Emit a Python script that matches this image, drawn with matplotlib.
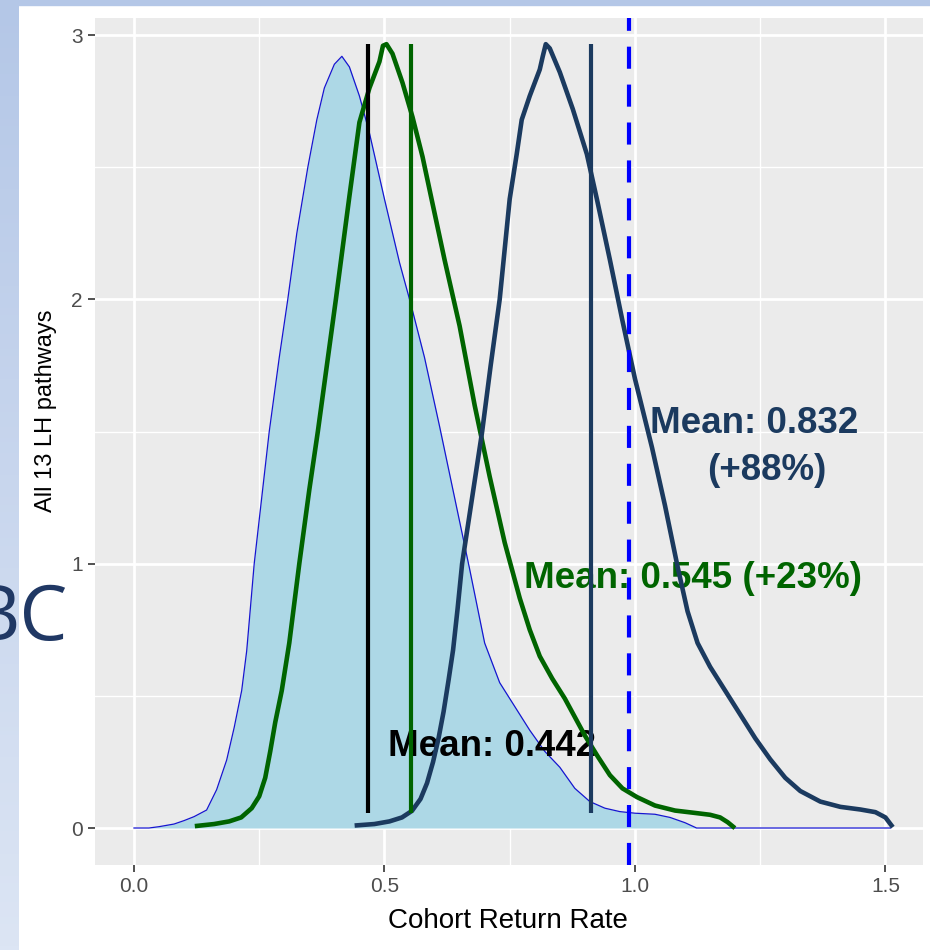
import numpy as np
import matplotlib.pyplot as plt
from matplotlib.patches import Rectangle
from matplotlib.colors import LinearSegmentedColormap
from matplotlib.ticker import MultipleLocator

# observed return-rate density (filled)
fill_x = [0.00, 0.03, 0.05, 0.08, 0.10, 0.12, 0.145, 0.165, 0.185, 0.20, 0.215, 0.225,
          0.24, 0.255, 0.27, 0.29, 0.307, 0.325, 0.347, 0.365, 0.38, 0.40, 0.415, 0.43,
          0.45, 0.47, 0.50, 0.53, 0.553, 0.58, 0.61, 0.64, 0.67, 0.70, 0.73, 0.76, 0.79,
          0.82, 0.85, 0.88, 0.91, 0.94, 0.97, 1.00, 1.04, 1.07, 1.10, 1.123, 1.51]
fill_y = [0.000, 0.000, 0.005, 0.015, 0.028, 0.043, 0.068, 0.145, 0.257, 0.38, 0.52, 0.67,
          1.00, 1.25, 1.50, 1.78, 2.00, 2.25, 2.50, 2.68, 2.80, 2.89, 2.92, 2.88,
          2.77, 2.63, 2.38, 2.14, 1.98, 1.78, 1.52, 1.25, 0.98, 0.70, 0.55, 0.46, 0.37,
          0.29, 0.23, 0.15, 0.10, 0.075, 0.062, 0.056, 0.052, 0.04, 0.02, 0.0, 0.0]

# scenario 1 (green)
green_x = [0.126, 0.16, 0.19, 0.214, 0.235, 0.25, 0.262, 0.272, 0.282, 0.295, 0.31, 0.33,
           0.35, 0.367, 0.385, 0.403, 0.43, 0.45, 0.47, 0.49, 0.497, 0.504, 0.516, 0.536,
           0.556, 0.576, 0.594, 0.62, 0.65, 0.68, 0.71, 0.74, 0.77, 0.79, 0.81, 0.835,
           0.86, 0.88, 0.90, 0.926, 0.95, 0.975, 1.004, 1.04, 1.08, 1.12, 1.15, 1.17,
           1.185, 1.196]
green_y = [0.008, 0.015, 0.025, 0.04, 0.075, 0.12, 0.19, 0.29, 0.40, 0.52, 0.70, 1.00,
           1.28, 1.50, 1.75, 2.00, 2.39, 2.67, 2.80, 2.90, 2.96, 2.966, 2.93, 2.82,
           2.69, 2.54, 2.38, 2.15, 1.90, 1.60, 1.33, 1.08, 0.87, 0.75, 0.65, 0.565,
           0.49, 0.42, 0.35, 0.27, 0.20, 0.15, 0.117, 0.085, 0.066, 0.057, 0.05, 0.04,
           0.022, 0.005]

# scenario 2 (navy)
navy_x = [0.445, 0.48, 0.51, 0.535, 0.555, 0.572, 0.585, 0.597, 0.608, 0.618, 0.628,
          0.637, 0.646, 0.655, 0.675, 0.695, 0.712, 0.73, 0.75, 0.764, 0.774, 0.79, 0.81,
          0.816, 0.822, 0.83, 0.85, 0.876, 0.904, 0.924, 0.95, 0.975, 1.00, 1.034, 1.06,
          1.085, 1.105, 1.125, 1.15, 1.18, 1.21, 1.24, 1.27, 1.30, 1.33, 1.37, 1.41,
          1.45, 1.48, 1.50, 1.512]
navy_y = [0.01, 0.015, 0.025, 0.04, 0.065, 0.11, 0.17, 0.25, 0.34, 0.44, 0.56,
          0.674, 0.83, 1.00, 1.25, 1.50, 1.75, 2.00, 2.38, 2.55, 2.68, 2.77, 2.87,
          2.92, 2.966, 2.95, 2.86, 2.72, 2.55, 2.38, 2.15, 1.92, 1.70, 1.44, 1.22,
          0.99, 0.82, 0.70, 0.61, 0.52, 0.43, 0.34, 0.26, 0.19, 0.14, 0.10, 0.08,
          0.07, 0.06, 0.04, 0.01]

vline_x = [0.467, 0.553, 0.912]
vline_col = ['black', '#006400', '#1b3a5f']
seg_lo, seg_hi = 0.057, 2.966
threshold = 0.988

W, H = 930., 950.
fig = plt.figure(figsize=(W / 100, H / 100), dpi=100)
fig.patch.set_facecolor('white')

# slide background pieces
bg = fig.add_axes([0, 0, 18 / W, 1])
grad = np.linspace(0, 1, 256).reshape(-1, 1)
bg.imshow(grad, aspect='auto', cmap=LinearSegmentedColormap.from_list('g', ['#b4c7e7', '#dce5f4']))
bg.axis('off')
fig.patches.append(Rectangle((0, 1 - 5 / H), 1, 5 / H, transform=fig.transFigure,
                             color='#b4c7e7', zorder=5))
fig.text(68 / W, 1 - 640 / H, 'BC', ha='right', va='baseline', fontsize=55,
         color='#203864', family='Open Sans')

ax = fig.add_axes([95 / W, 85 / H, 828 / W, 847 / H])
ax.set_facecolor('#ebebeb')
for s in ax.spines.values():
    s.set_visible(False)
ax.set_xlim(-0.0778, 1.575)
ax.set_ylim(-0.14, 3.065)
ax.xaxis.set_major_locator(MultipleLocator(0.5))
ax.xaxis.set_minor_locator(MultipleLocator(0.25))
ax.yaxis.set_major_locator(MultipleLocator(1))
ax.yaxis.set_minor_locator(MultipleLocator(0.5))
ax.grid(which='major', color='white', lw=2.0)
ax.grid(which='minor', color='white', lw=1.0)
ax.set_axisbelow(True)
ax.tick_params(which='major', length=5, width=1.2, color='#333333', labelcolor='#4d4d4d',
               labelsize=15, pad=4)
ax.tick_params(which='minor', length=0)
ax.xaxis.set_major_formatter(plt.FuncFormatter(lambda v, p: '%.1f' % v))
ax.yaxis.set_major_formatter(plt.FuncFormatter(lambda v, p: '%d' % v))
for lab in ax.get_xticklabels() + ax.get_yticklabels():
    lab.set_family('Liberation Sans')

ax.set_xlabel('Cohort Return Rate', fontsize=20, color='black', family='Liberation Sans')
ax.set_ylabel('All 13 LH pathways', fontsize=17, color='black', family='Liberation Sans')
ax.xaxis.set_label_coords(0.499, -0.051)
ax.yaxis.set_label_coords(-0.046, 0.536)

fx = np.array(fill_x)
fy = np.array(fill_y)
ax.fill_between(fx, fy, color='#add8e6', lw=0, zorder=1)
ax.plot(fx, fy, color='#1515d0', lw=0.9, zorder=1.5)

ax.plot(green_x, green_y, color='#006400', lw=3.3, zorder=3, solid_joinstyle='round')
ax.plot(navy_x, navy_y, color='#1b3a5f', lw=3.3, zorder=3, solid_joinstyle='round')
ax.vlines(vline_x, seg_lo, seg_hi, colors=vline_col, lw=3, zorder=3)
ax.axvline(threshold, color='blue', lw=3, ls=(0, (5.3, 3.8)), zorder=4)

tkw = dict(fontsize=26.5, fontweight='bold', family='Liberation Sans', ha='center',
           va='center', zorder=2.5)
ax.text(0.715, 0.31, 'Mean: 0.442', color='black', **tkw)
ax.text(1.116, 0.943, 'Mean: 0.545 (+23%)', color='#006400', **tkw)
ax.text(1.238, 1.53, 'Mean: 0.832', color='#1b3a5f', **tkw)
ax.text(1.263, 1.352, '(+88%)', color='#1b3a5f', **tkw)

fig.savefig('out.png', dpi=100)
